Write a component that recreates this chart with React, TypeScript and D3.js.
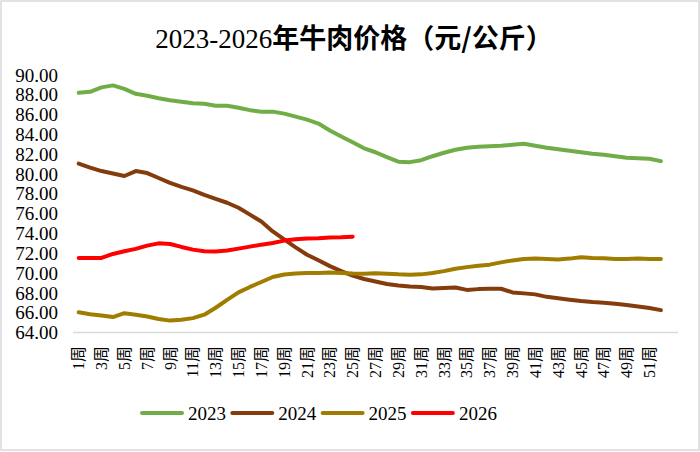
import * as d3 from 'd3';
import { useRef, useEffect } from 'react';

// weekly beef prices, yuan / kg
const weeks: string[] = d3.range(1, 53).map(i => `${i}周`);
const years = ['2023', '2024', '2025', '2026'];
const colors = ['#70AD47', '#843C0C', '#A07C00', '#FF0000'];

const p2023 = [88.2, 88.3, 88.75, 88.95, 88.6, 88.1, 87.9, 87.65, 87.45, 87.3, 87.15, 87.1, 86.9, 86.9, 86.7, 86.45, 86.3, 86.3, 86.1, 85.8, 85.5, 85.1, 84.4, 83.8, 83.2, 82.6,
	82.2, 81.7, 81.25, 81.2, 81.4, 81.8, 82.15, 82.45, 82.65, 82.75, 82.8, 82.85, 82.95, 83.05, 82.85, 82.65, 82.5, 82.35, 82.2, 82.05, 81.95, 81.8, 81.65, 81.6, 81.55, 81.3];
const p2024 = [81.05, 80.65, 80.3, 80.05, 79.8, 80.3, 80.1, 79.6, 79.1, 78.7, 78.35, 77.9, 77.5, 77.1, 76.6, 75.9, 75.2, 74.2, 73.4, 72.6, 71.85, 71.3, 70.7, 70.2, 69.75, 69.4,
	69.15, 68.9, 68.75, 68.65, 68.6, 68.45, 68.5, 68.55, 68.3, 68.38, 68.42, 68.42, 68.05, 67.95, 67.85, 67.6, 67.45, 67.3, 67.17, 67.07, 67.0, 66.9, 66.77, 66.63, 66.47, 66.26];
const p2025 = [66.05, 65.85, 65.72, 65.56, 65.95, 65.8, 65.62, 65.36, 65.2, 65.28, 65.45, 65.8, 66.5, 67.3, 68.05, 68.6, 69.1, 69.6, 69.85, 69.95, 70.0, 70.0, 70.05, 70.0, 69.95, 69.94,
	69.97, 69.94, 69.87, 69.84, 69.87, 70.0, 70.2, 70.44, 70.6, 70.74, 70.85, 71.08, 71.28, 71.42, 71.46, 71.42, 71.38, 71.46, 71.6, 71.53, 71.49, 71.42, 71.42, 71.46, 71.42, 71.42];
const p2026 = [71.53, 71.53, 71.53, 71.93, 72.2, 72.44, 72.77, 73.0, 72.94, 72.64, 72.37, 72.2, 72.17, 72.27, 72.47, 72.67, 72.87, 73.04, 73.28, 73.41, 73.48, 73.51, 73.58, 73.61, 73.68];
const series = [p2023, p2024, p2025, p2026];

const yTicks = d3.range(64, 91, 2);

const serif = '"Liberation Serif", "Noto Sans CJK SC", serif';
const cjk = '"Noto Sans CJK SC", sans-serif';

const App = () => {
	const W = 700, H = 452;
	const left = 73, right = 678, top = 75, bottom = 332.5;
	const ref: any = useRef();

	useEffect(() => {
		const svg = d3.select(ref.current);
		svg.selectAll("*").remove();

		// excel leaves one empty slot at the end of the axis
		const x = d3.scaleBand()
			.domain(weeks)
			.range([left, left + (right - left) * 52 / 53]);
		const cx = (w: string) => (x(w) || 0) + x.bandwidth() / 2;

		const y = d3.scaleLinear()
			.domain([64, 90])
			.range([bottom, top]);

		svg.append("rect")
			.attr("x", 1).attr("y", 1)
			.attr("width", W - 2).attr("height", H - 3)
			.attr("fill", "#fff")
			.attr("stroke", "#D9D9D9")
			.attr("stroke-width", 1.5);

		const title = svg.append("text")
			.attr("x", 354).attr("y", 48)
			.attr("text-anchor", "middle")
			.style("font-size", "27px");
		title.append("tspan")
			.style("font-family", serif)
			.text("2023-2026");
		title.append("tspan")
			.style("font-family", cjk)
			.style("font-weight", "bold")
			.text("年牛肉价格（元/公斤）");

		// y labels
		svg.append("g")
			.selectAll("text")
			.data(yTicks)
			.enter()
			.append("text")
			.attr("x", 58)
			.attr("y", d => y(d))
			.attr("dy", "0.35em")
			.attr("text-anchor", "end")
			.style("font-family", serif)
			.style("font-size", "19px")
			.text(d => d.toFixed(2));

		// x axis
		svg.append("line")
			.attr("x1", left).attr("x2", right)
			.attr("y1", bottom).attr("y2", bottom)
			.attr("stroke", "#D9D9D9")
			.attr("stroke-width", 1.5);

		svg.append("g")
			.selectAll("text")
			.data(weeks.filter((_, i) => i % 2 === 0))
			.enter()
			.append("text")
			.attr("transform", d => "translate(" + cx(d) + ",346) rotate(-90)")
			.attr("dy", "0.35em")
			.attr("text-anchor", "end")
			.style("font-family", serif)
			.style("font-size", "16px")
			.text(d => d);

		const line = d3.line<number>()
			.x((_, i) => cx(weeks[i]))
			.y(d => y(d));

		series.forEach((s, k) => {
			svg.append("path")
				.datum(s)
				.attr("d", line)
				.attr("fill", "none")
				.attr("stroke", colors[k])
				.attr("stroke-width", 4)
				.attr("stroke-linejoin", "round")
				.attr("stroke-linecap", "round");
		});

		// legend
		const lg = svg.append("g")
			.selectAll("g")
			.data(years)
			.enter()
			.append("g")
			.attr("transform", (_, i) => "translate(" + (141 + i * 90.3) + ",413)");
		lg.append("line")
			.attr("x1", 1).attr("x2", 41)
			.attr("stroke", (_, i) => colors[i])
			.attr("stroke-width", 4)
			.attr("stroke-linecap", "round");
		lg.append("text")
			.attr("x", 47)
			.attr("dy", "0.35em")
			.style("font-family", serif)
			.style("font-size", "19px")
			.text(d => d);
	}, []);

	return (
		<div style={{ position: 'absolute', left: 0, top: 0 }}>
			<svg ref={ref} width={W} height={H} style={{ display: 'block' }}>
			</svg>
		</div>
	);
};

export default App;
